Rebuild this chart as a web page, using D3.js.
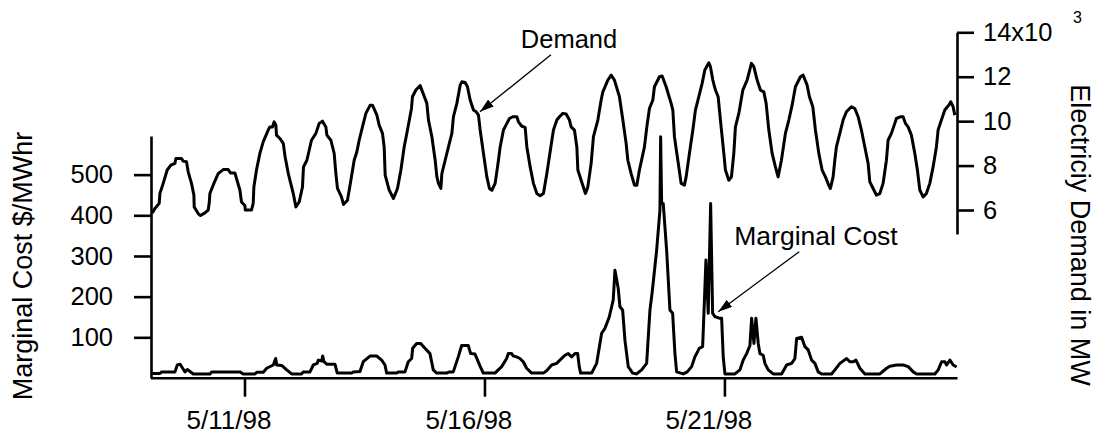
<!DOCTYPE html>
<html>
<head>
<meta charset="utf-8">
<script src="https://cdn.jsdelivr.net/npm/d3@7"></script>
<style>
  body { margin: 0; background: #fff; }
  text { font-family: "Liberation Sans", Arial, sans-serif; fill: #000; }
</style>
</head>
<body>
<div id="chart"></div>
<script>
// hours are counted from 5/9/98 00:00, demand in thousands of MW
const demandHours = [1.9, 3.2, 5.35, 5.7, 7.35, 9.35, 11.2, 13.2, 13.7, 16.5, 17.35, 19, 19.85, 21.5, 22.7, 22.85, 24.85, 26, 28.2, 29.85,
  30.35, 30.7, 32.7, 34.85, 37.35, 39.85, 41, 43.2, 44, 45.7, 46.5, 48.2, 48.4, 51.5, 52.35, 52.7, 54, 55.7, 57.35, 59.85,
  60.7, 62, 62.85, 63.7, 64, 65.7, 67.4, 68.3, 70, 72.4, 73.7, 75.35, 77, 77.5, 79.2, 80.35, 81.5, 83.7, 85.35, 87,
  88.7, 89.2, 91.2, 92.85, 93.7, 94.5, 96.5, 97.5, 99.5, 101.2, 102.85, 104.2, 105.35, 107, 108.7, 110.85, 112, 114.2, 115.35, 117,
  117.85, 118.35, 120.35, 122.5, 124.5, 126.2, 127.85, 129.5, 131.5, 132, 133.7, 135.85, 139.2, 140, 141.7, 143.35, 144.2, 145, 146.2, 146.7,
  148.35, 150, 151.7, 152.5, 154.2, 155.85, 156.7, 158.35, 159.5, 160.85, 162.5, 163.85, 165, 165.85, 167.5, 169.2, 170.5, 171.7, 173.35, 175,
  175.85, 177.5, 179.2, 180.5, 182.2, 184.2, 185, 186.7, 188.35, 189.2, 190.85, 192.5, 194.2, 195.85, 197.5, 199.2, 201.2, 202.5, 204.2, 205.5,
  207.2, 208.85, 210.5, 211.35, 213, 214.2, 214.7, 216.35, 218.5, 219.7, 221.35, 222.5, 224.7, 226.35, 227.2, 229.7, 231.35, 233, 235.5, 237.2,
  238.85, 239.7, 241.35, 243, 244.2, 245.5, 248, 249.2, 250.5, 252.2, 253, 255.5, 256.85, 258.85, 261.35, 262.2, 263, 264.7, 266.35, 268,
  268.85, 270.5, 272.2, 273.5, 275.2, 276.85, 278.2, 280.2, 281, 282.2, 283.5, 284.85, 286, 287.7, 288.5, 290.2, 291.5, 292.7, 293.5, 295.2,
  297.2, 299.35, 301.5, 302.7, 304.35, 306, 307.7, 308.85, 310.2, 311.85, 313.5, 314.85, 316.5, 318.5, 320.2, 321.85, 323.5, 326, 327.35, 329.35,
  330.5, 332.2, 333.5, 335.2, 336.85, 338.5, 340.2, 341, 342.35, 343.2, 344, 345.7, 347.35, 349, 351.5, 353.2, 354.85, 356.5, 358.2, 359.85,
  360.7, 362.35, 364, 365.7, 367.35, 369, 369.85, 371.5, 373.2, 374, 376.2, 377.35, 378.5, 379.85, 381.5, 383.2, 384.5, 385.7, 387.35, 389,
  390.7, 392.35, 394, 394.85, 396.5, 398.2, 400.2, 401.2, 402.35, 403.2];
const demandMW = [5.87, 6.07, 6.3, 6.74, 7.2, 7.8, 8.02, 8.1, 8.32, 8.32, 8.2, 8.17, 7.72, 7.2, 6.67, 6.14, 5.84, 5.75, 5.87, 6.0,
  6.3, 6.74, 7.2, 7.64, 7.82, 7.82, 7.67, 7.67, 7.42, 6.9, 6.36, 6.2, 6.0, 6.0, 6.3, 7.04, 7.8, 8.55, 9.07, 9.6,
  9.74, 9.74, 9.97, 9.82, 9.37, 9.22, 9.0, 8.4, 7.6, 6.74, 6.14, 6.36, 7.04, 7.94, 8.24, 8.69, 9.14, 9.45, 9.9, 10.0,
  9.74, 9.37, 9.14, 8.55, 7.64, 6.97, 6.59, 6.25, 6.44, 7.34, 8.24, 8.62, 9.14, 9.74, 10.35, 10.72, 10.72, 10.27, 9.82, 9.45,
  8.84, 7.57, 6.9, 6.52, 6.97, 7.79, 8.84, 9.6, 10.57, 11.1, 11.4, 11.6, 10.8, 10.05, 9.3, 8.24, 7.5, 7.2, 6.97, 7.64,
  8.24, 8.84, 9.45, 10.2, 10.8, 11.62, 11.77, 11.74, 11.55, 10.95, 10.5, 10.42, 10.27, 9.6, 8.55, 7.49, 6.97, 6.89, 7.2, 8.24,
  8.84, 9.6, 9.9, 10.12, 10.2, 10.2, 9.97, 9.77, 9.72, 8.84, 7.94, 7.2, 6.74, 6.64, 6.74, 7.64, 8.84, 9.6, 10.05, 10.2,
  10.35, 10.32, 10.05, 9.74, 9.6, 8.84, 7.8, 7.34, 6.74, 7.04, 8.1, 9.3, 10.05, 10.95, 11.32, 11.85, 12.07, 11.85, 11.1, 10.05,
  9.0, 8.24, 7.64, 7.12, 7.12, 7.8, 8.84, 9.74, 10.57, 10.95, 11.55, 12.0, 12.03, 11.55, 10.8, 10.5, 9.3, 8.24, 7.2, 7.12,
  7.49, 8.55, 9.6, 10.5, 11.1, 11.7, 12.3, 12.63, 12.45, 11.85, 11.4, 11.1, 10.05, 8.55, 7.8, 7.34, 7.49, 8.55, 9.74, 10.35,
  11.4, 11.85, 12.6, 12.45, 11.85, 11.4, 11.32, 10.8, 9.6, 8.55, 7.94, 7.49, 8.24, 9.45, 10.05, 10.72, 11.55, 12.0, 12.07, 11.62,
  11.1, 10.65, 9.6, 8.55, 7.8, 7.49, 7.1, 6.97, 7.49, 8.24, 8.84, 9.45, 10.05, 10.42, 10.65, 10.57, 10.2, 9.6, 8.84, 8.1,
  7.27, 6.97, 6.67, 6.74, 7.2, 8.24, 9.14, 9.45, 9.9, 10.12, 10.2, 10.2, 9.9, 9.74, 9.37, 8.55, 7.8, 6.9, 6.59, 6.74,
  7.2, 7.94, 8.84, 9.6, 10.05, 10.5, 10.72, 10.87, 10.65, 10.27];

// marginal cost in $/MWhr
const costHours = [1.6, 5.75, 6.6, 13.25, 14.4, 15.75, 17.1, 18.25, 19.4, 22.4, 30.75, 31.6, 45.75, 47.4, 53.25, 54.1, 57.4, 59.1, 62.4, 63.6,
  64.1, 66.6, 69.1, 71.6, 76.6, 77.4, 80.75, 82.4, 84.4, 84.9, 86.6, 87.1, 87.75, 89.1, 93.25, 94.4, 101.6, 102.4, 105.75, 107.4,
  110.75, 114.1, 116.6, 118.25, 119.1, 124.1, 124.9, 128.25, 129.9, 131.6, 132.1, 134.1, 136.1, 138.25, 140.75, 142.4, 144.1, 149.1, 150.4, 152.4,
  154.9, 156.6, 159.9, 161.1, 163.25, 165.75, 167.4, 173.25, 174.9, 176.6, 179.1, 179.9, 181.6, 182.4, 184.1, 185.75, 187.4, 189.1, 191.6, 197.4,
  199.1, 201.6, 204.1, 205.75, 208.25, 209.9, 211.6, 213.25, 214.6, 215.4, 216.1, 221.6, 223.25, 224.1, 226.6, 228.25, 230.4, 232.4, 233.25, 234.9,
  235.75, 237.1, 238.25, 239.9, 242.1, 244.1, 246.6, 249.1, 250.75, 251.9, 254.1, 255.75, 256.1, 256.6, 257.4, 259.1, 260.75, 262.1, 263.25, 264.1,
  267.4, 269.4, 271.6, 273.25, 275.4, 277.1, 277.75, 278.75, 279.9, 281.1, 282.1, 283.25, 285.4, 286.6, 287.4, 288.25, 293.25, 295.75, 297.4, 299.1,
  300.75, 301.6, 302.75, 303.75, 304.9, 305.75, 307.4, 308.25, 309.9, 312.4, 316.6, 319.1, 321.6, 323.25, 324.1, 326.6, 328.25, 329.9, 331.6, 333.25,
  334.9, 336.6, 341.6, 343.25, 345.75, 349.1, 350.75, 352.4, 353.75, 355.75, 358.25, 365.75, 369.1, 370.75, 374.1, 377.4, 379.9, 382.4, 384.1, 393.25,
  394.9, 396.6, 398.25, 399.1, 400.75, 402.4, 404.1];
const costValues = [11, 11, 15, 15, 32, 34, 24, 15, 21, 10, 10, 15, 15, 10, 10, 14, 14, 24, 32, 48,
  32, 31, 20, 10, 10, 15, 15, 32, 36, 44, 42, 54, 40, 34, 34, 12, 12, 15, 16, 40,
  54, 54, 44, 32, 12, 12, 15, 15, 40, 48, 73, 85, 85, 73, 60, 20, 12, 12, 15, 15,
  52, 80, 80, 60, 59, 30, 12, 12, 20, 28, 48, 60, 60, 54, 52, 48, 40, 24, 12, 12,
  18, 32, 36, 44, 56, 60, 52, 60, 60, 28, 12, 12, 28, 36, 110, 122, 150, 192, 265, 220,
  175, 167, 93, 28, 12, 10, 20, 36, 167, 212, 314, 413, 593, 429, 429, 314, 167, 159, 60, 15,
  10, 15, 28, 52, 73, 77, 159, 290, 159, 429, 159, 151, 147, 147, 52, 10, 10, 20, 44, 60,
  80, 147, 85, 147, 85, 60, 56, 36, 20, 10, 10, 32, 36, 48, 97, 100, 77, 69, 44, 36,
  15, 10, 10, 20, 36, 48, 40, 40, 44, 24, 10, 10, 24, 29, 32, 32, 28, 15, 10, 10,
  20, 40, 40, 32, 44, 32, 27];

const xTickDates = ["1998-05-11", "1998-05-16", "1998-05-21"];
const costTicks = [100, 200, 300, 400, 500];
const demandTicks = [6, 8, 10, 12, 14];

const width = 1094, height = 436;
const t0 = Date.UTC(1998, 4, 9);
const toDate = h => new Date(t0 + h * 3600000);

const svg = d3.select("#chart").append("svg")
  .attr("width", width).attr("height", height);

const x = d3.scaleUtc()
  .domain([toDate(1), toDate(404.3)])
  .range([150.5, 957]);
const yCost = d3.scaleLinear().domain([0, 595]).range([378, 136]);
const yDem = d3.scaleLinear().domain([4.92, 14]).range([234, 32.3]);

function styleAxis(g, size) {
  g.selectAll("path, line").attr("stroke", "#000").attr("stroke-width", 2.6);
  g.selectAll("text").attr("font-size", size).attr("font-family", "Liberation Sans, Arial, sans-serif");
}

// bottom axis
const xAxis = svg.append("g")
  .attr("transform", "translate(0,377.7)")
  .call(d3.axisBottom(x)
    .tickValues(xTickDates.map(d => new Date(d + "T00:00:00Z")))
    .tickFormat(d3.utcFormat("%-m/%-d/%y"))
    .tickSize(19).tickSizeOuter(0).tickPadding(14));
styleAxis(xAxis, "26px");
xAxis.selectAll("text").attr("dx", "-16");

// left axis
const yAxisL = svg.append("g")
  .attr("transform", "translate(151,0)")
  .call(d3.axisLeft(yCost).tickValues(costTicks).tickSize(17).tickSizeOuter(0).tickPadding(21));
styleAxis(yAxisL, "25.5px");

// right axis
const yAxisR = svg.append("g")
  .attr("transform", "translate(957,0)")
  .call(d3.axisRight(yDem).tickValues(demandTicks)
    .tickFormat(d => d === 14 ? "14x10" : d)
    .tickSize(17).tickSizeOuter(0).tickPadding(9));
styleAxis(yAxisR, "25.5px");

svg.append("text")
  .attr("x", 1073).attr("y", 23)
  .attr("font-size", "16px")
  .text("3");

// lines
const demandLine = d3.line()
  .x((d, i) => x(toDate(demandHours[i])))
  .y(d => yDem(d));
svg.append("path")
  .datum(demandMW)
  .attr("d", demandLine)
  .attr("fill", "none").attr("stroke", "#000")
  .attr("stroke-width", 3).attr("stroke-linejoin", "round");

const costLine = d3.line()
  .x((d, i) => x(toDate(costHours[i])))
  .y(d => yCost(d));
svg.append("path")
  .datum(costValues)
  .attr("d", costLine)
  .attr("fill", "none").attr("stroke", "#000")
  .attr("stroke-width", 3).attr("stroke-linejoin", "round");

// axis titles
svg.append("text")
  .attr("transform", "translate(32,266) rotate(-90)")
  .attr("text-anchor", "middle")
  .attr("font-size", "27px")
  .text("Marginal Cost $/MWhr");

svg.append("text")
  .attr("transform", "translate(1071,235) rotate(90)")
  .attr("text-anchor", "middle")
  .attr("font-size", "27px")
  .text("Electriciy Demand in MW");

// annotations
const defs = svg.append("defs");
defs.append("marker")
  .attr("id", "arrow")
  .attr("viewBox", "0 0 14 9")
  .attr("refX", 14).attr("refY", 4.5)
  .attr("markerWidth", 14).attr("markerHeight", 9)
  .attr("markerUnits", "userSpaceOnUse")
  .attr("orient", "auto")
  .append("path").attr("d", "M0,0L14,4.5L0,9Z").attr("fill", "#000");

const demandTip = [x(toDate(165.75)), yDem(10.42)];
svg.append("line")
  .attr("x1", demandTip[0] + 71).attr("y1", demandTip[1] - 57)
  .attr("x2", demandTip[0]).attr("y2", demandTip[1])
  .attr("stroke", "#000").attr("stroke-width", 1.3)
  .attr("marker-end", "url(#arrow)");
svg.append("text")
  .attr("x", 569).attr("y", 48)
  .attr("text-anchor", "middle")
  .attr("font-size", "25.5px")
  .text("Demand");

const costTip = [x(toDate(284.9)), yCost(163)];
svg.append("line")
  .attr("x1", costTip[0] + 81).attr("y1", costTip[1] - 60)
  .attr("x2", costTip[0]).attr("y2", costTip[1])
  .attr("stroke", "#000").attr("stroke-width", 1.3)
  .attr("marker-end", "url(#arrow)");
svg.append("text")
  .attr("x", 816).attr("y", 245)
  .attr("text-anchor", "middle")
  .attr("font-size", "26.5px")
  .text("Marginal Cost");
</script>
</body>
</html>
